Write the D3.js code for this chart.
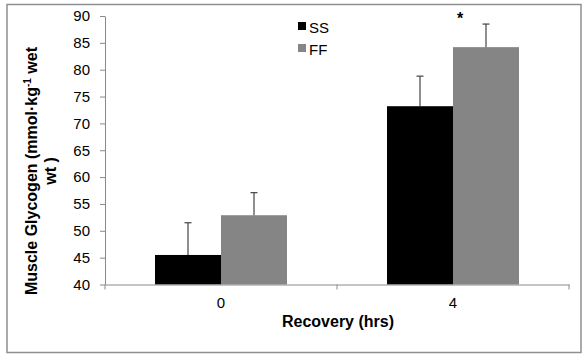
<!DOCTYPE html>
<html>
<head>
<meta charset="utf-8">
<script src="https://cdn.jsdelivr.net/npm/d3@7"></script>
<style>
  html, body { margin: 0; padding: 0; background: #fff; }
  svg { display: block; font-family: "Liberation Sans", Arial, sans-serif; }
</style>
</head>
<body>
<svg id="chart" width="587" height="357"></svg>
<script>
const categories = ["0", "4"];
const seriesNames = ["SS", "FF"];
const ssValues = [45.5, 73.2];
const ffValues = [52.9, 84.2];
const ssErrors = [6.0, 5.6];
const ffErrors = [4.2, 4.3];
const yTicks = [40, 45, 50, 55, 60, 65, 70, 75, 80, 85, 90];
const significance = ["", "*"];
const colors = { SS: "#000000", FF: "#858585" };

const svg = d3.select("#chart");

// frame
svg.append("rect")
  .attr("x", 7).attr("y", 4.5).attr("width", 574).attr("height", 348)
  .attr("fill", "#fff").attr("stroke", "#8f8f8f").attr("stroke-width", 1.5);

const x = d3.scaleBand().domain(categories).range([105, 569]).padding(0);
const xs = d3.scaleBand().domain(seriesNames).range([50, 182]).padding(0);
const y = d3.scaleLinear().domain([40, 90]).range([284.5, 16]);

const rows = categories.map((c, i) => ({
  cat: c,
  sig: significance[i],
  vals: [
    { s: "SS", v: ssValues[i], e: ssErrors[i] },
    { s: "FF", v: ffValues[i], e: ffErrors[i] }
  ]
}));

// bars
const groups = svg.append("g").selectAll("g").data(rows).join("g")
  .attr("transform", d => `translate(${x(d.cat)},0)`);

groups.selectAll("rect").data(d => d.vals).join("rect")
  .attr("x", d => xs(d.s))
  .attr("width", xs.bandwidth())
  .attr("y", d => y(d.v))
  .attr("height", d => y(40) - y(d.v))
  .attr("fill", d => colors[d.s]);

// error bars (upward only)
const eb = groups.selectAll("g.err").data(d => d.vals).join("g").attr("class", "err");
eb.append("line")
  .attr("x1", d => xs(d.s) + xs.bandwidth() / 2)
  .attr("x2", d => xs(d.s) + xs.bandwidth() / 2)
  .attr("y1", d => y(d.v))
  .attr("y2", d => y(d.v + d.e))
  .attr("stroke", "#444").attr("stroke-width", 1.2);
eb.append("line")
  .attr("x1", d => xs(d.s) + xs.bandwidth() / 2 - 3.5)
  .attr("x2", d => xs(d.s) + xs.bandwidth() / 2 + 3.5)
  .attr("y1", d => y(d.v + d.e))
  .attr("y2", d => y(d.v + d.e))
  .attr("stroke", "#444").attr("stroke-width", 1.2);

// significance marker
groups.append("text")
  .attr("x", x.bandwidth() / 2 + 7)
  .attr("y", 24)
  .attr("text-anchor", "middle")
  .attr("font-size", 16).attr("font-weight", "bold")
  .text(d => d.sig);

// y axis
const yAxis = svg.append("g").attr("transform", "translate(105,0)")
  .call(d3.axisLeft(y).tickValues(yTicks).tickSize(5).tickSizeOuter(0).tickPadding(10));
yAxis.select(".domain").attr("stroke", "#8a8a8a");
yAxis.selectAll(".tick line").attr("stroke", "#8a8a8a");
yAxis.selectAll(".tick text").attr("font-size", 15).attr("fill", "#000")
  .attr("font-family", "Liberation Sans, Arial, sans-serif");

// x axis
const xAxis = svg.append("g").attr("transform", `translate(0,${y(40)})`)
  .call(d3.axisBottom(x).tickSize(0).tickSizeOuter(0).tickPadding(13));
xAxis.select(".domain").attr("stroke", "#8a8a8a");
xAxis.selectAll(".tick text").attr("font-size", 15).attr("fill", "#000")
  .attr("font-family", "Liberation Sans, Arial, sans-serif");
const boundaries = categories.map(c => x(c)).concat([x.range()[1]]);
xAxis.selectAll("line.bound").data(boundaries).join("line").attr("class", "bound")
  .attr("x1", d => d).attr("x2", d => d).attr("y1", 0).attr("y2", 5)
  .attr("stroke", "#8a8a8a");

// axis titles
svg.append("text")
  .attr("x", (x.range()[0] + x.range()[1]) / 2 + 1)
  .attr("y", 327)
  .attr("text-anchor", "middle")
  .attr("font-size", 16).attr("font-weight", "bold")
  .text("Recovery (hrs)");

const yt = svg.append("text")
  .attr("transform", "translate(37,171) rotate(-90)")
  .attr("text-anchor", "middle")
  .attr("font-size", 16).attr("font-weight", "bold");
yt.append("tspan").text("Muscle Glycogen (mmol·kg");
yt.append("tspan").attr("font-size", 10).attr("dy", -6).text("-1");
yt.append("tspan").attr("dy", 6).text(" wet");
svg.append("text")
  .attr("transform", "translate(56,171) rotate(-90)")
  .attr("text-anchor", "middle")
  .attr("font-size", 16).attr("font-weight", "bold")
  .text("wt )");

// legend
const legend = svg.append("g").selectAll("g").data(seriesNames).join("g")
  .attr("transform", (d, i) => `translate(298,${22 + i * 22})`);
legend.append("rect").attr("width", 8).attr("height", 8).attr("fill", d => colors[d]);
legend.append("text").attr("x", 11).attr("y", 10.5)
  .attr("font-size", 15).attr("fill", "#000").text(d => d);
</script>
</body>
</html>
